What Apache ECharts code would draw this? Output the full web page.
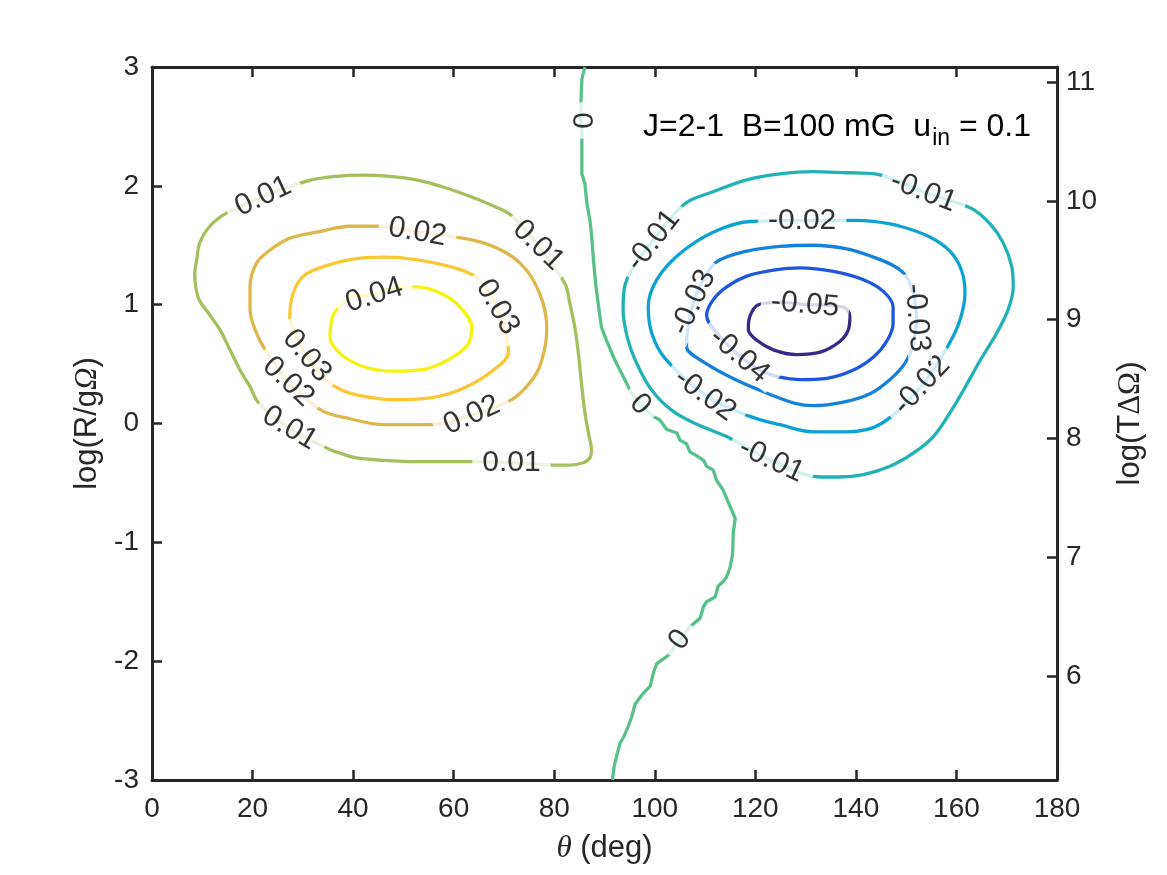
<!DOCTYPE html>
<html>
<head>
    <meta charset="utf-8">
    <title>contour theta / log(R/gΩ)</title>
    <script src="https://cdn.jsdelivr.net/npm/echarts/dist/echarts.min.js"></script>
    <style>html, body { margin: 0; padding: 0; background: #fff; }</style>
</head>
<body>
<div id="main" style="width: 1167px;height:875px;"></div>
<script type="text/javascript">

    // contour paths, points are [theta (deg), log(R/gΩ)]
    const levelNames = ['-0.05', '-0.04', '-0.03', '-0.02', '-0.01', '0', '0.01', '0.02', '0.03', '0.04'];

    const cM05 = [[129.9, 1.00], [137.5, 0.98], [138.8, 0.90], [138.5, 0.79], [136.8, 0.69], [132.9, 0.60], [128.2, 0.58],
        [123.6, 0.62], [120.3, 0.70], [118.6, 0.79], [118.9, 0.90], [120.6, 1.00], [124.5, 1.02], [129.9, 1.00]];
    const cM04 = [[116.8, 0.57], [113.0, 0.73], [110.3, 0.91], [111.6, 1.04], [114.3, 1.15], [118.3, 1.24], [123.6, 1.29],
        [128.9, 1.31], [135.5, 1.28], [141.5, 1.21], [145.5, 1.11], [147.4, 0.98], [147.4, 0.84], [146.1, 0.69],
        [143.5, 0.56], [139.5, 0.45], [134.2, 0.38], [128.9, 0.37], [124.9, 0.39], [120.9, 0.45], [116.8, 0.57]];
    const cM03 = [[152.1, 0.89], [151.4, 1.10], [149.8, 1.25], [147.4, 1.33], [143.5, 1.40], [138.2, 1.47], [131.5, 1.50],
        [124.9, 1.49], [118.3, 1.45], [112.3, 1.36], [109.5, 1.20], [107.7, 1.02], [106.6, 0.80], [106.3, 0.65],
        [110.0, 0.51], [116.0, 0.37], [122.6, 0.25], [127.9, 0.17], [131.5, 0.15], [137.5, 0.18], [142.8, 0.25],
        [146.8, 0.37], [149.8, 0.51], [151.4, 0.67], [152.1, 0.89]];
    const cM02 = [[129.3, 1.71], [118.9, 1.70], [111.6, 1.61], [105.0, 1.43], [100.4, 1.21], [98.7, 0.98], [99.4, 0.76],
        [102.0, 0.55], [110.0, 0.24], [118.9, 0.06], [124.9, -0.01], [131.5, -0.07], [138.2, -0.07], [145.1, 0.00],
        [153.1, 0.32], [158.4, 0.66], [160.7, 0.87], [161.7, 1.10], [161.0, 1.29], [158.7, 1.45], [154.7, 1.57],
        [148.8, 1.66], [143.5, 1.70], [139.5, 1.71], [129.3, 1.71]];
    const cM01 = [[99.7, 1.54], [106.0, 1.85], [111.6, 1.95], [118.3, 2.05], [124.9, 2.10], [131.5, 2.12], [138.2, 2.11],
        [143.8, 2.10], [153.4, 1.95], [163.0, 1.81], [166.7, 1.68], [169.3, 1.52], [171.0, 1.32], [171.3, 1.15],
        [170.3, 0.96], [168.0, 0.76], [164.7, 0.53], [161.4, 0.28], [158.7, 0.09], [155.4, -0.11], [151.4, -0.25],
        [146.8, -0.36], [141.5, -0.43], [136.8, -0.45], [133.2, -0.45], [123.2, -0.31], [114.3, -0.11], [108.0, 0.00],
        [103.4, 0.11], [99.4, 0.28], [96.7, 0.48], [94.7, 0.70], [93.7, 0.96], [94.1, 1.17], [99.7, 1.54]];
    const c00 = [[86.1, 3.00], [85.5, 2.90], [85.3, 2.69], [85.3, 2.55], [85.5, 2.40], [85.5, 2.10], [86.1, 2.02],
        [86.5, 1.85], [87.1, 1.71], [87.4, 1.60], [87.8, 1.38], [88.3, 1.15], [89.0, 0.93], [89.4, 0.81], [90.4, 0.70],
        [92.1, 0.53], [93.8, 0.39], [95.2, 0.27], [97.1, 0.16], [99.7, 0.06], [101.0, 0.03], [102.4, -0.05],
        [104.4, -0.08], [105.0, -0.14], [106.3, -0.17], [107.0, -0.24], [108.3, -0.27], [109.7, -0.31], [110.3, -0.36],
        [111.6, -0.39], [112.3, -0.48], [113.6, -0.56], [114.3, -0.63], [115.3, -0.73], [116.0, -0.80], [115.6, -0.92],
        [115.5, -1.09], [115.0, -1.21], [114.3, -1.29], [113.6, -1.33], [112.6, -1.37], [112.0, -1.46], [110.3, -1.50],
        [109.7, -1.54], [109.0, -1.64], [107.0, -1.71], [105.0, -1.82], [102.7, -1.95], [100.4, -2.02], [99.7, -2.10],
        [99.1, -2.21], [97.7, -2.27], [96.1, -2.36], [95.4, -2.47], [94.7, -2.55], [93.8, -2.64], [93.1, -2.69],
        [92.4, -2.80], [91.9, -2.89], [91.6, -3.00]];
    const cP01 = [[22.1, 1.91], [30.8, 2.04], [36.7, 2.08], [42.0, 2.09], [47.3, 2.08], [52.6, 2.05], [57.9, 1.99],
        [63.3, 1.91], [67.9, 1.83], [71.5, 1.75], [76.8, 1.50], [82.1, 1.18], [83.1, 1.01], [84.1, 0.81], [84.8, 0.59],
        [85.5, 0.31], [86.1, 0.09], [86.8, -0.08], [87.4, -0.22], [87.1, -0.29], [85.8, -0.33], [83.1, -0.35],
        [80.8, -0.35], [71.5, -0.33], [63.6, -0.32], [57.9, -0.32], [51.3, -0.32], [46.0, -0.31], [40.7, -0.29],
        [37.4, -0.25], [35.4, -0.22], [27.4, -0.04], [21.1, 0.18], [19.5, 0.31], [17.5, 0.45], [15.5, 0.62],
        [13.5, 0.79], [11.2, 0.93], [9.4, 1.04], [8.7, 1.15], [8.5, 1.26], [8.9, 1.38], [9.5, 1.52], [11.5, 1.66],
        [14.8, 1.77], [22.1, 1.91]];
    const cP02 = [[52.8, 1.61], [44.7, 1.66], [39.4, 1.66], [32.8, 1.61], [27.4, 1.56], [23.5, 1.46], [20.8, 1.35],
        [19.5, 1.15], [19.5, 0.96], [20.5, 0.79], [22.5, 0.62], [27.1, 0.35], [33.7, 0.11], [39.4, 0.04], [46.0, -0.01],
        [55.3, -0.01], [63.6, 0.07], [71.5, 0.20], [74.5, 0.31], [76.8, 0.45], [78.2, 0.65], [78.5, 0.81], [77.8, 1.01],
        [75.8, 1.21], [73.2, 1.35], [69.9, 1.45], [65.9, 1.52], [61.6, 1.56], [52.8, 1.61]];
    const cP03 = [[68.7, 0.98], [66.5, 1.13], [64.2, 1.24], [59.3, 1.32], [52.6, 1.38], [46.0, 1.40], [39.4, 1.38],
        [34.1, 1.32], [30.1, 1.24], [28.1, 1.10], [27.4, 0.90], [28.5, 0.75], [30.8, 0.57], [33.5, 0.42], [36.4, 0.31],
        [40.7, 0.24], [48.0, 0.20], [56.0, 0.22], [62.6, 0.31], [67.9, 0.45], [70.9, 0.60], [70.2, 0.78], [68.7, 0.98]];
    const cP04 = [[44.2, 1.08], [48.0, 1.14], [52.6, 1.15], [57.3, 1.10], [61.3, 0.98], [63.6, 0.81], [62.9, 0.67],
        [59.9, 0.56], [54.6, 0.46], [48.0, 0.44], [42.0, 0.48], [37.4, 0.59], [35.4, 0.73], [35.7, 0.87], [36.4, 0.94],
        [40.0, 1.07], [44.2, 1.08]];

    const contourPaths = [cM05, cM04, cM03, cM02, cM01, c00, cP01, cP02, cP03, cP04];

    // inline contour labels
    const labelText = ['0.01', '0.01', '0.01', '0.01', '0.02', '0.02', '0.02', '0.03', '0.03', '0.04',
        '0', '0', '0', '-0.01', '-0.01', '-0.01', '-0.02', '-0.02', '-0.02', '-0.03', '-0.03', '-0.04', '-0.05'];
    const labelX = [22.1, 76.8, 71.5, 27.4, 52.8, 27.1, 63.6, 30.8, 68.7, 44.2,
        85.3, 97.1, 105.0, 99.7, 153.4, 123.2, 129.3, 110.0, 153.1, 107.7, 152.1, 116.8, 129.9];
    const labelY = [1.91, 1.50, -0.33, -0.04, 1.61, 0.35, 0.07, 0.57, 0.98, 1.08,
        2.55, 0.16, -1.82, 1.54, 1.95, -0.31, 1.71, 0.24, 0.32, 1.02, 0.89, 0.57, 1.00];

    // right axis: log(TΔΩ) = log(R/gΩ) + 8.126
    const rightTicks = [6, 7, 8, 9, 10, 11];

    // styling
    const levelColors = ['#352a87', '#1d58db', '#1681d8', '#0da2d4', '#20b2b6', '#58c08b', '#a4bf5c', '#deb64c', '#fbc834', '#f5f20c'];
    const labelAngle = [25, -44, 0, -31, -10, -43, 24, -50, -60, 18,
        -90, -45, 53, 52, -21, -25, 0, -36, 47, 65, -85, -40, -5];

    const font = "'Liberation Sans', Arial, Helvetica, sans-serif";
    const serif = "'Liberation Serif', 'DejaVu Serif', serif";
    const ink = '#262626';
    const myChart = echarts.init(document.getElementById('main'));

    const axisLine = {show: true, onZero: false, lineStyle: {color: ink, width: 3}};
    const axisTick = {show: true, inside: true, length: 10, lineStyle: {color: ink, width: 2.5}};

    const series = contourPaths.map(function (path, i) {
        return {
            name: levelNames[i],
            type: 'line',
            data: path,
            symbol: 'none',
            smooth: i === 5 ? false : 0.35,
            lineStyle: {color: levelColors[i], width: 3.3},
            z: 2,
            silent: true
        };
    });

    series.push({
        type: 'scatter',
        symbolSize: 1,
        itemStyle: {color: 'rgba(0,0,0,0)'},
        z: 6,
        silent: true,
        label: {
            show: true,
            position: 'inside',
            color: '#000',
            fontFamily: font,
            fontSize: 30,
            lineHeight: 24,
            backgroundColor: '#fff',
            padding: [0, 10]
        },
        data: labelText.map(function (t, i) {
            return {value: [labelX[i], labelY[i]], label: {formatter: t, rotate: labelAngle[i]}};
        })
    });

    const option = {
        animation: false,
        backgroundColor: '#fff',
        textStyle: {fontFamily: font},
        title: {
            text: '{a|J=2-1  B=100 mG  u}{s|in}{a| = 0.1}',
            left: 643,
            top: 111,
            padding: 0,
            textStyle: {
                fontWeight: 'normal',
                rich: {
                    a: {fontFamily: font, fontSize: 32, fontWeight: 'normal', verticalAlign: 'top', color: '#000'},
                    s: {fontFamily: font, fontSize: 23, fontWeight: 'normal', verticalAlign: 'top', padding: [16, 0, 0, 1], color: '#000'}
                }
            }
        },
        grid: {left: 152, right: 110, top: 67, bottom: 95, containLabel: false, outerBoundsMode: 'none'},
        xAxis: [{
            type: 'value', min: 0, max: 180, interval: 20, position: 'bottom',
            axisLine: axisLine, axisTick: axisTick, splitLine: {show: false},
            axisLabel: {color: ink, fontSize: 28, fontFamily: font, margin: 15},
            name: '{t|θ} (deg)', nameLocation: 'middle', nameGap: 53,
            nameTextStyle: {
                color: ink, fontSize: 31, fontFamily: font,
                rich: {t: {fontFamily: serif, fontStyle: 'italic', fontSize: 31, color: ink}}
            }
        }, {
            type: 'value', min: 0, max: 180, interval: 20, position: 'top',
            axisLine: axisLine, axisTick: axisTick, splitLine: {show: false},
            axisLabel: {show: false}
        }],
        yAxis: [{
            type: 'value', min: -3, max: 3, interval: 1, position: 'left',
            axisLine: axisLine, axisTick: axisTick, splitLine: {show: false},
            axisLabel: {color: ink, fontSize: 28, fontFamily: font, margin: 13},
            name: 'log(R/g{o|Ω})', nameLocation: 'middle', nameRotate: 90, nameGap: 47,
            nameTextStyle: {
                color: ink, fontSize: 31, fontFamily: font,
                rich: {o: {fontFamily: serif, fontStyle: 'italic', fontSize: 31, color: ink}}
            }
        }, {
            type: 'value', min: 5.126, max: 11.126, position: 'right',
            axisLine: axisLine, splitLine: {show: false},
            axisTick: Object.assign({}, axisTick, {customValues: rightTicks}),
            axisLabel: {color: ink, fontSize: 28, fontFamily: font, margin: 9, customValues: rightTicks},
            name: 'log(T{o|ΔΩ})', nameLocation: 'middle', nameRotate: 90, nameGap: 58,
            nameTextStyle: {
                color: ink, fontSize: 31, fontFamily: font,
                rich: {o: {fontFamily: serif, fontSize: 31, color: ink}}
            }
        }],
        series: series
    };
    myChart.setOption(option);
</script>
</body>
</html>
